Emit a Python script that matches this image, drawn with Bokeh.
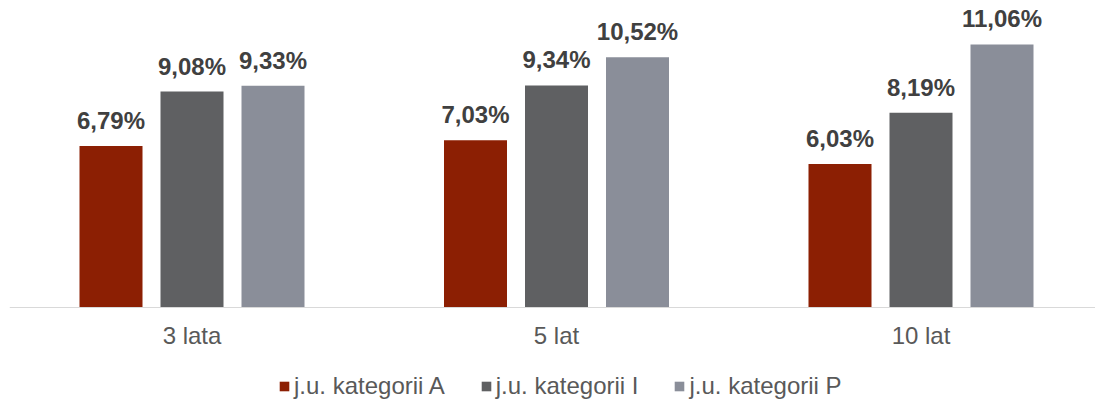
from bokeh.plotting import figure
from bokeh.models import (ColumnDataSource, FixedTicker, Legend, LegendItem,
                          LabelSet, Range1d)
from bokeh.core.properties import value
from bokeh.embed import file_html
from bokeh.resources import INLINE

# ---- data ----
categories = ["3 lata", "5 lat", "10 lat"]
series = ["j.u. kategorii A", "j.u. kategorii I", "j.u. kategorii P"]
vals_A = [6.79, 7.03, 6.03]
vals_I = [9.08, 9.34, 8.19]
vals_P = [9.33, 10.52, 11.06]
colors = ["#8C1F03", "#5F6062", "#8A8E99"]

FONT = "Liberation Sans"
W, H = 1095, 403
LEFT = 9
PX_PER_CAT = 364.5
PX_PER_UNIT = 23.78
BASE_Y = 307  # pixel row of value 0
x0 = -(191.5 - LEFT) / PX_PER_CAT

p = figure(width=W, height=H, output_backend="svg", toolbar_location=None,
           x_range=Range1d(x0, x0 + (W - LEFT) / PX_PER_CAT),
           y_range=Range1d(-(H - BASE_Y) / PX_PER_UNIT, BASE_Y / PX_PER_UNIT),
           min_border=0, min_border_left=LEFT, outline_line_color=None,
           background_fill_color="white", border_fill_color="white")

p.xgrid.visible = False
p.ygrid.visible = False
p.yaxis.visible = False

ax = p.xaxis[0]
ax.fixed_location = 0
ax.ticker = FixedTicker(ticks=list(range(len(categories))))
ax.major_label_overrides = {i: c for i, c in enumerate(categories)}
ax.major_tick_line_color = None
ax.minor_tick_line_color = None
ax.axis_line_color = "#D9D9D9"
ax.axis_line_width = 1
ax.major_label_text_font = FONT
ax.major_label_text_font_size = "24px"
ax.major_label_text_color = "#595959"
ax.major_label_standoff = 8

step = 81 / PX_PER_CAT
bw = 63 / PX_PER_CAT
offsets = [-step, 0.0, step]
all_vals = [vals_A, vals_I, vals_P]

items = []
for s, vals, col, off in zip(series, all_vals, colors, offsets):
    src = ColumnDataSource(dict(
        x=[i + off for i in range(len(categories))],
        top=vals,
        lab=[f"{v:.2f}".replace(".", ",") + "%" for v in vals],
    ))
    r = p.vbar(x="x", top="top", width=bw, bottom=0, source=src,
               fill_color=col, line_color=None)
    items.append(LegendItem(label=s, renderers=[r]))
    ls = LabelSet(x="x", y="top", text="lab", source=src, y_offset=17,
                  text_align="center", text_baseline="alphabetic",
                  text_font=value(FONT), text_font_size=value("24px"),
                  text_font_style="bold", text_color="#404040")
    p.add_layout(ls)

legend = Legend(items=items, orientation="horizontal", location=(278 - LEFT, 3),
                padding=0, margin=0, spacing=35, glyph_width=12, glyph_height=12,
                label_standoff=4, label_height=24, label_text_font=FONT,
                label_text_font_size="24px", label_text_color="#595959",
                border_line_color=None, background_fill_alpha=0)
p.add_layout(legend)

open("out.html", "w").write(file_html(p, INLINE))
